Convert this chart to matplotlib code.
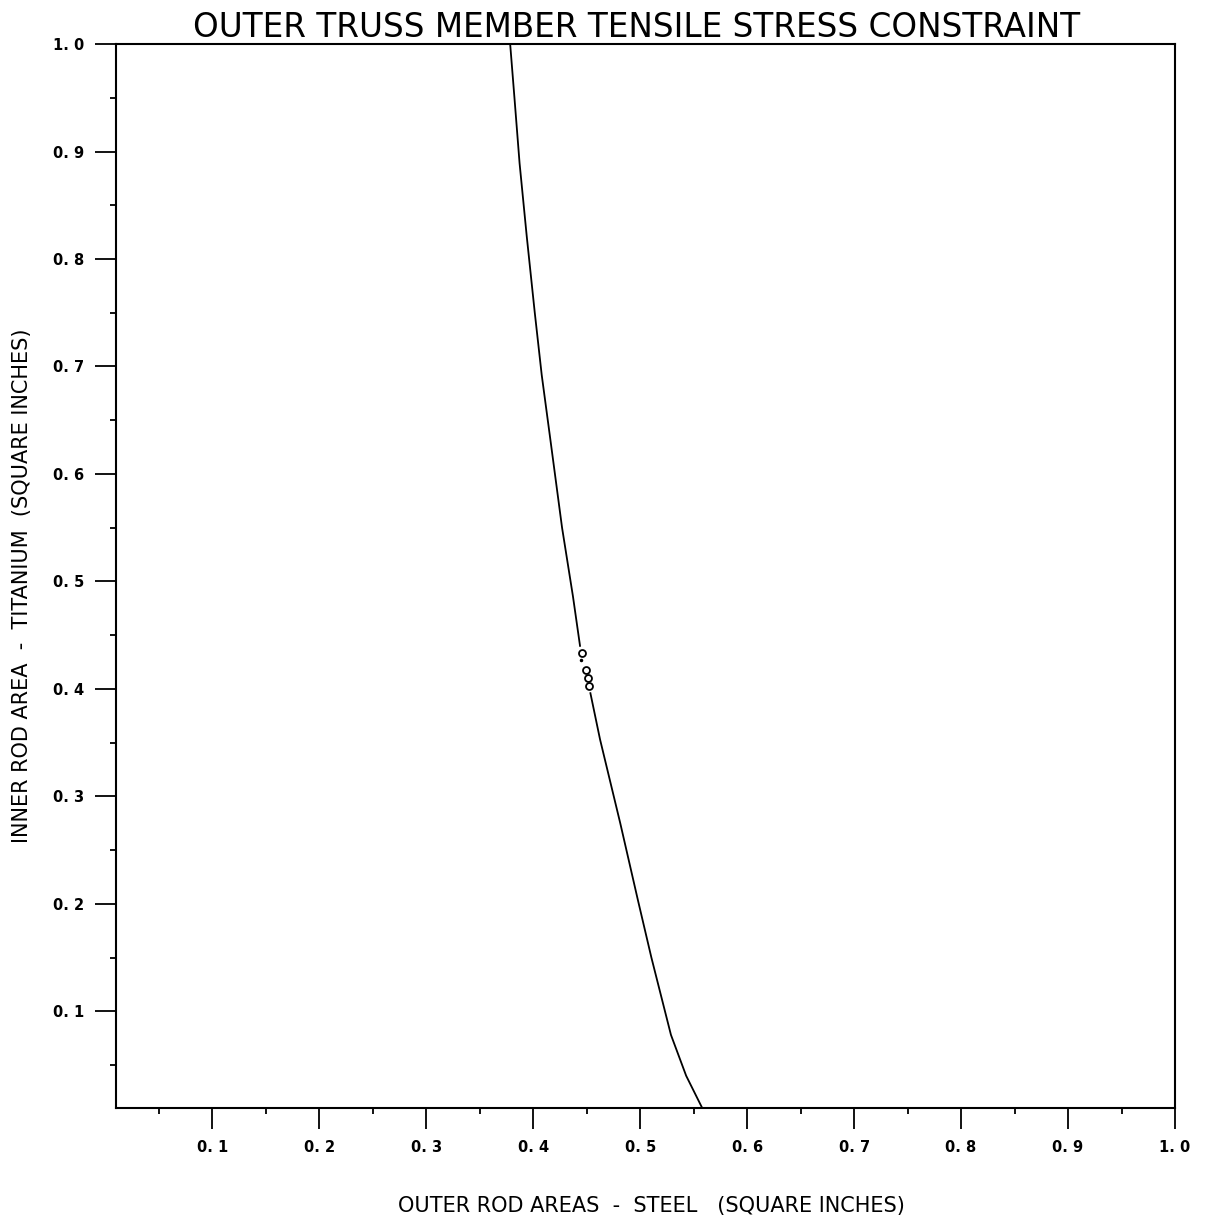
import matplotlib.pyplot as plt
from matplotlib.ticker import MultipleLocator, FixedLocator

# constraint curve (steel area, titanium area)
# upper branch (above the marked points) and lower branch (below them)
curve_top_x = [0.3785, 0.3825, 0.3873, 0.394, 0.4015, 0.408, 0.4158,
               0.427, 0.4372, 0.4438]
curve_top_y = [1.0, 0.95, 0.889, 0.821, 0.75, 0.692, 0.634,
               0.55, 0.486, 0.440]
curve_bot_x = [0.4535, 0.4625, 0.4814, 0.498, 0.5105, 0.5288, 0.543, 0.558]
curve_bot_y = [0.396, 0.353, 0.275, 0.203, 0.15, 0.078, 0.04, 0.01]

# design points marked with circles
pts_x = [0.4459, 0.449, 0.4509, 0.452]
pts_y = [0.4333, 0.4176, 0.4101, 0.4023]
dot_x = [0.4446]
dot_y = [0.4267]

tick_vals = [0.1, 0.2, 0.3, 0.4, 0.5, 0.6, 0.7, 0.8, 0.9, 1.0]
tick_labels = ['0. 1', '0. 2', '0. 3', '0. 4', '0. 5',
               '0. 6', '0. 7', '0. 8', '0. 9', '1. 0']

fig = plt.figure(figsize=(12.08, 12.24), dpi=100)
ax = fig.add_axes([0.096, 0.0948, 0.8767, 0.8692])

ax.plot(curve_top_x, curve_top_y, 'k-', lw=1.3)
ax.plot(curve_bot_x, curve_bot_y, 'k-', lw=1.3)
ax.plot(pts_x, pts_y, 'o', ms=5, mfc='white', mec='black', mew=1.3)
ax.plot(dot_x, dot_y, 'k.', ms=3)

ax.set_xlim(0.01, 1.0)
ax.set_ylim(0.01, 1.0)

ax.xaxis.set_major_locator(FixedLocator(tick_vals))
ax.yaxis.set_major_locator(FixedLocator(tick_vals))
ax.xaxis.set_minor_locator(MultipleLocator(0.05))
ax.yaxis.set_minor_locator(MultipleLocator(0.05))
ax.set_xticklabels(tick_labels)
ax.set_yticklabels(tick_labels)

ax.tick_params(which='major', direction='out', length=15, width=1.3,
               labelsize=10.5, pad=8)
ax.tick_params(which='minor', direction='out', length=4.5, width=1.3)
for lab in ax.get_xticklabels() + ax.get_yticklabels():
    lab.set_fontweight('bold')

for sp in ax.spines.values():
    sp.set_linewidth(1.5)

ax.set_title('OUTER TRUSS MEMBER TENSILE STRESS CONSTRAINT',
             fontsize=23.5, pad=5, x=0.492)
ax.set_xlabel('OUTER ROD AREAS  -  STEEL   (SQUARE INCHES)', fontsize=15)
ax.set_ylabel('INNER ROD AREA  -  TITANIUM  (SQUARE INCHES)', fontsize=15)
ax.xaxis.set_label_coords(0.5057, -0.083)
ax.yaxis.set_label_coords(-0.079, 0.4906)

plt.savefig('out.png', dpi=100)
